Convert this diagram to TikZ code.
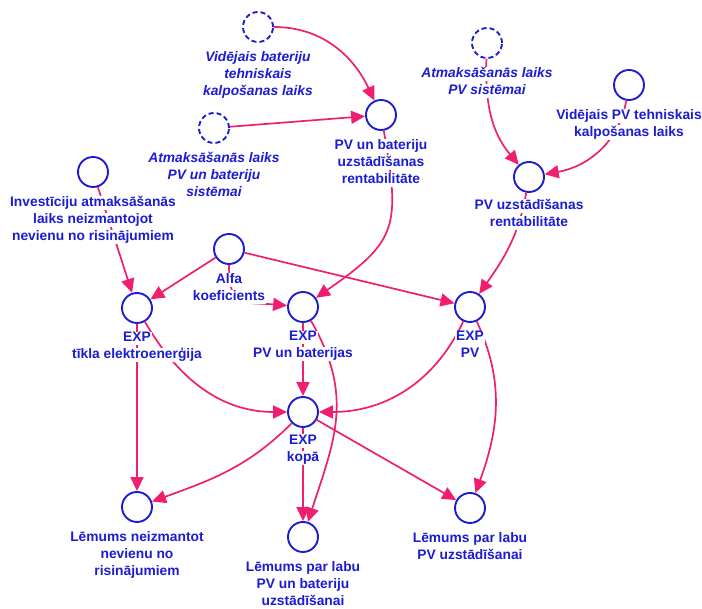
\documentclass[tikz,border=0pt]{standalone}
\usepackage{fontspec}
\setmainfont{Liberation Sans}
\usetikzlibrary{arrows.meta}
\definecolor{cblue}{RGB}{28,28,210}
\definecolor{cpink}{RGB}{240,30,110}
\setlength{\fboxsep}{0.3pt}
\newcommand\wl[1]{\colorbox{white}{\rule[-3.4pt]{0pt}{13pt}\hspace{0.8pt}#1\hspace{0.8pt}}}
\begin{document}
\begin{tikzpicture}[x=1pt,y=1pt,
  circ/.style={circle,draw=cblue,line width=1.9pt,minimum size=30pt,inner sep=0pt},
  dcirc/.style={circ,dash pattern=on 5pt off 3pt},
  lbl/.style={anchor=north,align=center,inner sep=0pt,text=cblue,font=\fontsize{13.8}{17}\selectfont\bfseries},
  lbli/.style={lbl,font=\fontsize{13.8}{17}\selectfont\bfseries\itshape},
  arr/.style={draw=cpink,line width=1.7pt,-{Triangle[length=14pt,width=13pt]}}]
\useasboundingbox (0,0) rectangle (702,609);
% circles
\node[dcirc] (vb) at (258,582) {};
\node[dcirc] (apb) at (214,481) {};
\node[circ] (inv) at (93,437) {};
\node[circ] (alfa) at (229,360) {};
\node[circ] (pvbr) at (381,494) {};
\node[dcirc] (apv) at (487,566) {};
\node[circ] (vpv) at (629,524) {};
\node[circ] (pvr) at (529,432) {};
\node[circ] (expt) at (137,301) {};
\node[circ] (expb) at (303,302) {};
\node[circ] (exppv) at (470,302) {};
\node[circ] (kopa) at (303,197) {};
\node[circ] (lne) at (137,102) {};
\node[circ] (lpb) at (303,72) {};
\node[circ] (lpv) at (470,101) {};
% connectors
\draw[arr] (vb) to[out=0,in=115] (pvbr);
\draw[arr] (apb) -- (pvbr);
\draw[arr] (pvbr) to[out=-80,in=35,looseness=1.4] (expb);
\draw[arr] (alfa) -- (expt);
\draw[arr] (alfa) to[out=-90,in=175,looseness=1.6] (expb);
\draw[arr] (alfa) -- (exppv);
\draw[arr] (inv) -- (expt);
\draw[arr] (pvr) to[out=-100,in=55] (exppv);
\draw[arr] (apv) to[out=-92,in=130] (pvr);
\draw[arr] (vpv) to[out=-100,in=10] (pvr);
\draw[arr] (expt) -- (lne);
\draw[arr] (expt) to[out=-60,in=180] (kopa);
\draw[arr] (expb) -- (kopa);
\draw[arr] (expb) to[out=-60,in=72,looseness=1.1] (lpb);
\draw[arr] (kopa) -- (lpb);
\draw[arr] (kopa) to[out=-135,in=20] (lne);
\draw[arr] (kopa) -- (lpv);
\draw[arr] (exppv) to[out=-115,in=0] (kopa);
\draw[arr] (exppv) to[out=-65,in=70] (lpv);
% labels
\node[lbli] (vbL) at ([yshift=-23.6pt]vb.center) {\wl{Vidējais bateriju}\\\wl{tehniskais}\\\wl{kalpošanas laiks}};
\node[lbli] (apbL) at ([yshift=-23.6pt]apb.center) {\wl{Atmaksāšanās laiks}\\\wl{PV un bateriju}\\\wl{sistēmai}};
\node[lbl] (invL) at ([yshift=-23.6pt]inv.center) {\wl{Investīciju atmaksāšanās}\\\wl{laiks neizmantojot}\\\wl{nevienu no risinājumiem}};
\node[lbl] (alfaL) at ([yshift=-23.6pt]alfa.center) {\wl{Alfa}\\\wl{koeficients}};
\node[lbl] (pvbrL) at ([yshift=-23.6pt]pvbr.center) {\wl{PV un bateriju}\\\wl{uzstādīšanas}\\\wl{rentabilitāte}};
\node[lbli] (apvL) at ([yshift=-23.6pt]apv.center) {\wl{Atmaksāšanās laiks}\\\wl{PV sistēmai}};
\node[lbl] (vpvL) at ([yshift=-23.6pt]vpv.center) {\wl{Vidējais PV tehniskais}\\\wl{kalpošanas laiks}};
\node[lbl] (pvrL) at ([yshift=-22pt]pvr.center) {\wl{PV uzstādīšanas}\\\wl{rentabilitāte}};
\node[lbl] (exptL) at ([yshift=-23.6pt]expt.center) {\wl{EXP}\\\wl{tīkla elektroenerģija}};
\node[lbl] (expbL) at ([yshift=-23.6pt]expb.center) {\wl{EXP}\\\wl{PV un baterijas}};
\node[lbl] (exppvL) at ([yshift=-23.6pt]exppv.center) {\wl{EXP}\\\wl{PV}};
\node[lbl] (kopaL) at ([yshift=-22pt]kopa.center) {\wl{EXP}\\\wl{kopā}};
\node[lbl] (lneL) at ([yshift=-23.6pt]lne.center) {\wl{Lēmums neizmantot}\\\wl{nevienu no}\\\wl{risinājumiem}};
\node[lbl] (lpbL) at ([yshift=-23.6pt]lpb.center) {\wl{Lēmums par labu}\\\wl{PV un bateriju}\\\wl{uzstādīšanai}};
\node[lbl] (lpvL) at ([yshift=-23.6pt]lpv.center) {\wl{Lēmums par labu}\\\wl{PV uzstādīšanai}};
\end{tikzpicture}
\end{document}
